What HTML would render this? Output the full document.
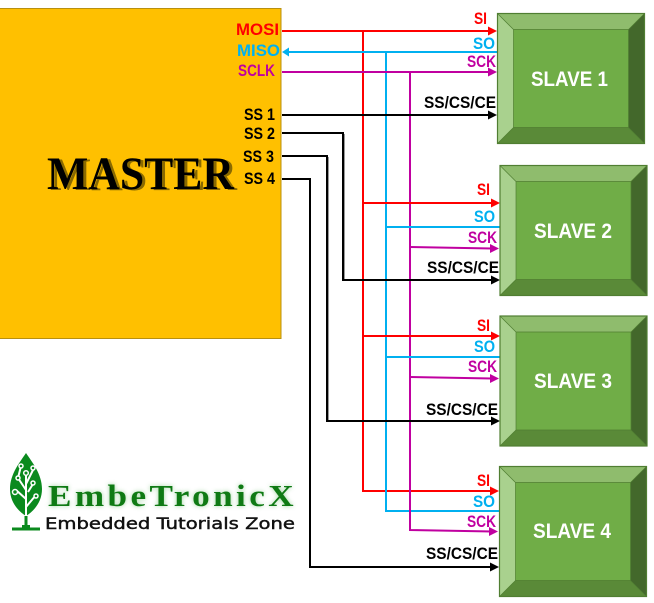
<!DOCTYPE html>
<html><head><meta charset="utf-8"><style>
html,body{margin:0;padding:0;background:#fff}
svg{display:block}
text{font-family:"Liberation Sans",sans-serif;font-weight:bold}
</style></head><body>
<svg width="654" height="603" viewBox="0 0 654 603" xmlns="http://www.w3.org/2000/svg">
<defs>
<filter id="glow" x="-10%" y="-40%" width="120%" height="180%"><feGaussianBlur stdDeviation="2.5"/></filter>
<g id="bevel">
<rect x="0" y="0" width="147" height="130" fill="#70AD47"/>
<polygon points="0,0 147,0 131,16 16,16" fill="#8FBC6D"/>
<polygon points="0,0 16,16 16,114 0,130" fill="#A9D18E"/>
<polygon points="147,0 147,130 131,114 131,16" fill="#43682B"/>
<polygon points="0,130 16,114 131,114 147,130" fill="#5A8A38"/>
<path d="M0,0L16,16M147,0L131,16M0,130L16,114M147,130L131,114M16,16H131V114H16Z" fill="none" stroke="#507E32" stroke-width="0.7"/>
<rect x="0" y="0" width="147" height="130" fill="none" stroke="#507E32" stroke-width="1.2"/>
</g>
</defs>

<rect x="-2" y="8.5" width="283" height="330" fill="#FFC000" stroke="#B8900F" stroke-width="1"/>

<!-- vertical buses -->
<g fill="none" stroke-width="2">
<path d="M363,31V491H492" stroke="#FF0000"/>
<path d="M386,52V511H499" stroke="#00B0F0"/>
<path d="M410,72V530L492,531.5" stroke="#C000A0"/>
<path d="M282,31H490" stroke="#FF0000"/>
<path d="M287,52H497" stroke="#00B0F0"/>
<path d="M282,72H490" stroke="#C000A0"/>
<path d="M363,203H492M363,336H492" stroke="#FF0000"/>
<path d="M386,227H500M386,357H500" stroke="#00B0F0"/>
<path d="M410,247L492,248.5M410,377L492,378.5" stroke="#C000A0"/>
<path d="M282,115H490" stroke="#000"/>
<path d="M282,133H343V280H492" stroke="#000"/>
<path d="M282,156H327V421H492" stroke="#000"/>
<path d="M282,179H310V567H492" stroke="#000"/>
</g>
<path d="M344.5,134V279M328.5,157V420" stroke="#999" stroke-width="1" fill="none"/>

<!-- arrowheads -->
<g fill="#FF0000">
<polygon points="488,26.5 497,31 488,35.5"/>
<polygon points="491,198.5 500,203 491,207.5"/>
<polygon points="491,331.5 500,336 491,340.5"/>
<polygon points="490,486.5 499,491 490,495.5"/>
</g>
<polygon points="282,52 289,47.5 289,56.5" fill="#00B0F0"/>
<g fill="#C000A0">
<polygon points="488,67.5 497,72 488,76.5"/>
<polygon points="490,244 499,248.5 490,253"/>
<polygon points="490,374 499,378.5 490,383"/>
<polygon points="489,527 498,531.5 489,536"/>
</g>
<g fill="#000">
<polygon points="488,110.5 497,115 488,119.5"/>
<polygon points="491,275.5 500,280 491,284.5"/>
<polygon points="491,416.5 500,421 491,425.5"/>
<polygon points="490,562.5 499,567 490,571.5"/>
</g>

<!-- slaves -->
<use href="#bevel" x="497.5" y="13.5"/>
<use href="#bevel" x="500" y="165.5"/>
<use href="#bevel" x="500" y="316"/>
<use href="#bevel" x="499.5" y="466.5"/>
<g fill="#fff" font-size="21">
<text x="531" y="86" textLength="77" lengthAdjust="spacingAndGlyphs">SLAVE 1</text>
<text x="534" y="238" textLength="78" lengthAdjust="spacingAndGlyphs">SLAVE 2</text>
<text x="534" y="388" textLength="78" lengthAdjust="spacingAndGlyphs">SLAVE 3</text>
<text x="533" y="538" textLength="78" lengthAdjust="spacingAndGlyphs">SLAVE 4</text>
</g>

<!-- master pin labels -->
<g font-size="16.5">
<text x="236" y="35" fill="#FF0000" textLength="43" lengthAdjust="spacingAndGlyphs">MOSI</text>
<text x="237" y="56" fill="#00B0F0" textLength="43" lengthAdjust="spacingAndGlyphs">MISO</text>
<text x="238" y="76" fill="#C000A0" textLength="37" lengthAdjust="spacingAndGlyphs">SCLK</text>
<text x="244" y="120" fill="#000" textLength="31" lengthAdjust="spacingAndGlyphs">SS 1</text>
<text x="244" y="139" fill="#000" textLength="31" lengthAdjust="spacingAndGlyphs">SS 2</text>
<text x="243" y="162" fill="#000" textLength="31" lengthAdjust="spacingAndGlyphs">SS 3</text>
<text x="244" y="184" fill="#000" textLength="31" lengthAdjust="spacingAndGlyphs">SS 4</text>
</g>

<!-- connector labels -->
<g font-size="16.5">
<g fill="#FF0000">
<text x="474" y="24" textLength="13" lengthAdjust="spacingAndGlyphs">SI</text>
<text x="477" y="195" textLength="13" lengthAdjust="spacingAndGlyphs">SI</text>
<text x="477" y="331" textLength="13" lengthAdjust="spacingAndGlyphs">SI</text>
<text x="477" y="486" textLength="13" lengthAdjust="spacingAndGlyphs">SI</text>
</g>
<g fill="#00B0F0">
<text x="473" y="49" textLength="22" lengthAdjust="spacingAndGlyphs">SO</text>
<text x="474" y="222" textLength="21" lengthAdjust="spacingAndGlyphs">SO</text>
<text x="474" y="352" textLength="21" lengthAdjust="spacingAndGlyphs">SO</text>
<text x="473" y="507" textLength="22" lengthAdjust="spacingAndGlyphs">SO</text>
</g>
<g fill="#C000A0">
<text x="467" y="67" textLength="29" lengthAdjust="spacingAndGlyphs">SCK</text>
<text x="468" y="243" textLength="29" lengthAdjust="spacingAndGlyphs">SCK</text>
<text x="468" y="372" textLength="29" lengthAdjust="spacingAndGlyphs">SCK</text>
<text x="467" y="527" textLength="29" lengthAdjust="spacingAndGlyphs">SCK</text>
</g>
<g fill="#000">
<text x="424" y="108" textLength="72" lengthAdjust="spacingAndGlyphs">SS/CS/CE</text>
<text x="427" y="273" textLength="72" lengthAdjust="spacingAndGlyphs">SS/CS/CE</text>
<text x="426" y="415" textLength="72" lengthAdjust="spacingAndGlyphs">SS/CS/CE</text>
<text x="426" y="559" textLength="72" lengthAdjust="spacingAndGlyphs">SS/CS/CE</text>
</g>
</g>

<!-- MASTER -->
<text x="50" y="190" font-size="47" fill="#8A6A00" textLength="187" lengthAdjust="spacingAndGlyphs" style="font-family:'Liberation Serif',serif">MASTER</text>
<text x="47" y="189" font-size="47" fill="#000" textLength="187" lengthAdjust="spacingAndGlyphs" style="font-family:'Liberation Serif',serif">MASTER</text>

<!-- logo -->
<path d="M26,453C20,462 10,474 10,489C10,502 18,511 26,516C34,511 42,502 42,489C42,474 32,462 26,453Z" fill="#0B8A1E"/>
<g fill="none" stroke="#fff" stroke-width="2">
<path d="M26,526V499L16,490M26,507L36,495M26,499V474M26,490L18,478M18,478L21,466M26,484L33,470"/>
<path d="M33,484L28,492"/>
</g>
<g fill="#0B8A1E" stroke="#fff" stroke-width="1.5">
<circle cx="21" cy="466" r="2"/><circle cx="33" cy="468" r="2"/><circle cx="26" cy="473" r="2.3"/>
<circle cx="18" cy="478" r="2"/><circle cx="33" cy="483" r="2"/><circle cx="15" cy="492" r="2.5"/><circle cx="36" cy="496" r="2"/>
</g>
<path d="M26,516V526" stroke="#0B8A1E" stroke-width="3"/>
<path d="M12,529H40" stroke="#0B8A1E" stroke-width="3"/>
<rect x="22" y="525" width="8" height="5" fill="#0B8A1E"/>
<text x="48" y="506" font-size="31" fill="#7CC47C" opacity=".75" filter="url(#glow)" textLength="249" lengthAdjust="spacingAndGlyphs" style="font-family:'Liberation Serif',serif;letter-spacing:3px">EmbeTronicX</text>
<text x="48" y="506" font-size="31" fill="#0F7A14" textLength="249" lengthAdjust="spacingAndGlyphs" style="font-family:'Liberation Serif',serif;letter-spacing:3px">EmbeTronicX</text>
<text x="45" y="529" font-size="16" fill="#111" stroke="#111" stroke-width="0.45" textLength="250" lengthAdjust="spacingAndGlyphs" style="font-family:'DejaVu Sans',sans-serif;font-weight:normal">Embedded Tutorials Zone</text>
</svg>
</body></html>
